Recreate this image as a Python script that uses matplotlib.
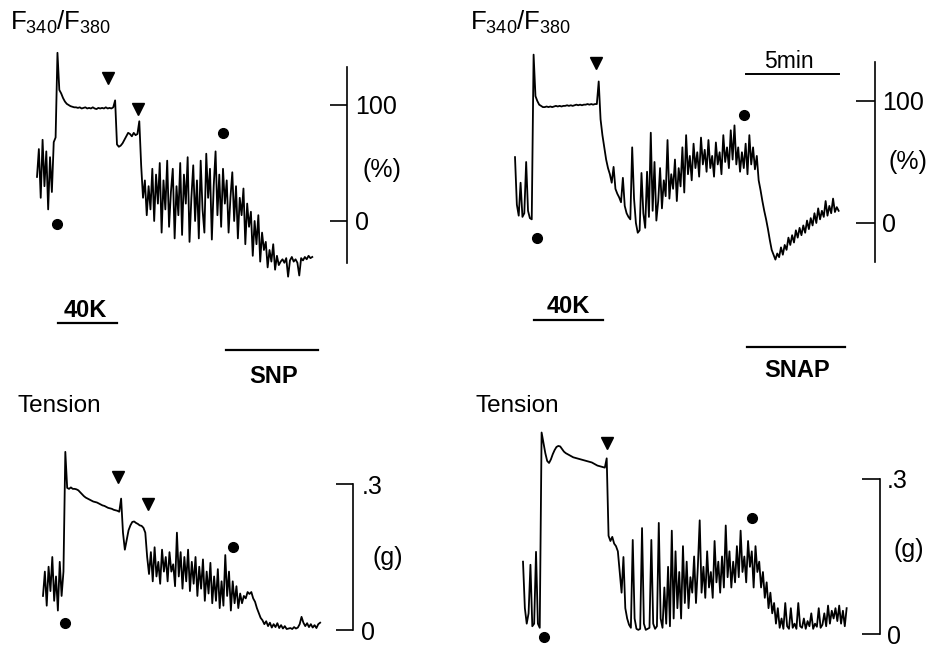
import numpy as np
import matplotlib
matplotlib.use("Agg")
import matplotlib.pyplot as plt
import matplotlib.transforms as mtransforms

plt.rcParams['font.family'] = ['Liberation Sans', 'DejaVu Sans']
plt.rcParams['mathtext.fontset'] = 'custom'
plt.rcParams['mathtext.rm'] = 'Liberation Sans'
plt.rcParams['mathtext.it'] = 'Liberation Sans:italic'
plt.rcParams['mathtext.bf'] = 'Liberation Sans:bold'

# ---------------- data (time step 0.1 min per sample) ----------------
DT = 0.1  # min

# F340/F380 (%), SNP experiment
ratio_snp = [38, 62, 20, 70, 30, 60, 10, 55, 25, 68, 72,
             145,
             113, 110, 106, 103, 101, 100, 99, 98.5, 98,
             98, 97.5, 98, 97, 97.5, 98, 97, 97.5, 97, 98, 97, 96.5, 97.5, 97, 97.5, 97, 98, 97, 97.5, 97, 98,
             104,
             66, 64, 65, 67, 70, 73, 76, 75, 73, 76, 74, 75,
             86, 48,
             20, 35, 5, 30, 10, 45, 0, 40, 15, 50,
             -10, 35, 10, 52, -5, 25, 45, -15, 30, 5, 50,
             -12, 40, 15, 55, -18, 20, 48, 0, 35, -15, 52,
             10, -10, 58, 20, 45, -16, 30, 60, 5, 40,
             -5, 45, 15, 35, -10, 20, 42, 0,
             30, -15, 20, 5, 28, -20, 15, -5,
             8, -30, 0, -20, 5, -35, -10, -25,
             -18, -40, -25, -35, -20, -42, -30, -38,
             -35, -33, -36, -32, -48, -34, -31, -35, -33, -36, -47, -32, -34, -31, -33, -30, -32, -31]

# F340/F380 (%), SNAP experiment
ratio_snap = [54, 15, 6, 33, 5, 8, 50, 10, 4, 3,
              138,
              104, 100, 97, 96, 95,
              95, 95.5, 95, 95.5, 95, 95.5, 96, 95.5, 96, 95.5, 96, 96, 96.5, 96, 96.5,
              96, 96.5, 97, 96.5, 97, 96.5, 97, 97, 97.5, 97, 97.5, 97, 97.5, 97.5,
              116,
              85, 72, 62, 52, 45, 40, 33,
              46, 28, 24, 21, 17, 37, 14,
              8, 5, 3, 62, 20, 0, -8,
              -6, 41, 8, -4, 42, 5, 74,
              10, 50, 2, 18, 45, 12, 35,
              22, 68, 20, 40, 28, 52, 18,
              45, 30, 62, 25, 72, 40, 55,
              35, 65, 45, 58, 38, 70, 48,
              60, 42, 68, 45, 55, 38, 66,
              48, 58, 40, 72, 50, 62, 45,
              76, 52, 80, 48, 62, 42, 58,
              45, 65, 40, 72, 48, 62, 44,
              55, 35, 27, 18, 10, 3, -5,
              -14, -22, -26, -30, -25, -28, -20,
              -26, -18, -22, -12, -18, -10, -16,
              -6, -12, -4, -10, -2, -8, 2,
              -5, 4, -2, 8, 0, 12, 3,
              10, 5, 18, 6, 14, 8, 20,
              9, 13, 10]

# Tension (g), SNP experiment
tension_snp = [0.07, 0.12, 0.05, 0.13, 0.08, 0.15, 0.06, 0.11, 0.04, 0.14, 0.07, 0.12,
               0.366,
               0.292, 0.29, 0.293, 0.29, 0.29, 0.289, 0.287, 0.283, 0.279, 0.275, 0.272, 0.27,
               0.268, 0.266, 0.264, 0.263, 0.262, 0.26, 0.258, 0.256, 0.255, 0.253, 0.251, 0.25,
               0.249, 0.247, 0.246, 0.245, 0.243,
               0.27, 0.2, 0.165, 0.185, 0.205, 0.215, 0.222, 0.223, 0.22, 0.218, 0.215, 0.214,
               0.21, 0.2, 0.15, 0.115,
               0.16, 0.1, 0.17, 0.11, 0.14, 0.095, 0.165, 0.12, 0.15, 0.1, 0.16, 0.12, 0.135, 0.09,
               0.2, 0.11, 0.16, 0.085, 0.15, 0.1, 0.165, 0.08, 0.14, 0.095, 0.15, 0.07, 0.13, 0.085,
               0.145, 0.06, 0.12, 0.075, 0.138, 0.055, 0.11, 0.06, 0.125, 0.045, 0.1, 0.05, 0.154,
               0.07, 0.12, 0.04, 0.1, 0.055, 0.09, 0.045, 0.075, 0.055, 0.07, 0.065, 0.078, 0.074,
               0.078, 0.065, 0.058, 0.045, 0.035, 0.025, 0.02, 0.012, 0.018, 0.008, 0.015, 0.005,
               0.012, 0.006, 0.014, 0.004, 0.01, 0.003, 0.008, 0.002, 0.003, 0.004, 0.002, 0.006,
               0.003, 0.005, 0.012, 0.027, 0.015, 0.008, 0.014, 0.006, 0.012, 0.005, 0.01, 0.004,
               0.012, 0.015]

# Tension (g), SNAP experiment
tension_snap = [0.14, 0.05, 0.02, 0.04, 0.134, 0.015, 0.02, 0.159, 0.02, 0.012,
                0.39,
                0.37, 0.35, 0.335, 0.331, 0.338, 0.348, 0.356, 0.362, 0.364, 0.363, 0.358, 0.353,
                0.35, 0.348, 0.346, 0.344, 0.342, 0.341, 0.34, 0.339, 0.338, 0.337, 0.336, 0.335,
                0.334, 0.333, 0.332, 0.33, 0.328, 0.326, 0.325, 0.324, 0.323, 0.322,
                0.34,
                0.19, 0.18, 0.188, 0.175, 0.17, 0.16, 0.12, 0.08, 0.149, 0.05, 0.03, 0.018, 0.012,
                0.182, 0.03, 0.01, 0.008, 0.01, 0.205, 0.02, 0.008, 0.01, 0.012, 0.182, 0.02, 0.01,
                0.015, 0.215, 0.03, 0.012, 0.09, 0.02, 0.13, 0.015, 0.2, 0.03, 0.16, 0.05, 0.12,
                0.03, 0.17, 0.06, 0.14, 0.05, 0.11, 0.08, 0.15, 0.06, 0.13, 0.22, 0.08, 0.13, 0.07,
                0.16, 0.09, 0.12, 0.07, 0.18, 0.1, 0.14, 0.08, 0.15, 0.09, 0.21, 0.11, 0.16, 0.09,
                0.14, 0.1, 0.17, 0.11, 0.2, 0.12, 0.15, 0.1, 0.18, 0.13, 0.16, 0.09, 0.17, 0.12,
                0.14, 0.09, 0.12, 0.07, 0.1, 0.05, 0.08, 0.04, 0.06, 0.02, 0.05, 0.012, 0.03, 0.01,
                0.06, 0.015, 0.01, 0.05, 0.012, 0.02, 0.01, 0.06, 0.015, 0.012, 0.03, 0.01, 0.025,
                0.015, 0.04, 0.01, 0.02, 0.014, 0.05, 0.012, 0.018, 0.04, 0.015, 0.055, 0.02, 0.045,
                0.03, 0.05, 0.025, 0.055, 0.02, 0.045, 0.015, 0.05]

# event markers (time in min, level)
tri_snp_t, tri_snp_r = [3.82, 5.43], [123, 96.6]
dot_snp_t, dot_snp_r = [1.08, 10.0], [-2.6, 75.9]
tri_snap_t, tri_snap_r = [4.35], [131]
dot_snap_t, dot_snap_r = [1.18, 12.31], [-12.3, 88.5]
tri_snpT_t, tri_snpT_g = [4.03, 5.65], [0.314, 0.259]
dot_snpT_t, dot_snpT_g = [1.18, 10.2], [0.0144, 0.171]
tri_snapT_t, tri_snapT_g = [4.52], [0.37]
dot_snapT_t, dot_snapT_g = [1.13, 12.31], [-0.006, 0.2245]

# drug application periods (min)
k40_snp = (1.13, 4.3)
snp_period = (10.16, 15.1)
k40_snap = (1.02, 4.73)
snap_period = (12.47, 17.74)
scale_5min = (12.42, 17.42)

# ---------------- layout ----------------
W, H = 930, 648
PPM = 18.6  # pixels per minute
fig = plt.figure(figsize=(W / 100, H / 100), dpi=100)


def make_panel(box, x0_px, y_ref_px, px_per_unit):
    l, r, t, b = box
    ax = fig.add_axes([l / W, 1 - b / H, (r - l) / W, (b - t) / H])
    ax.set_xlim((l - x0_px) / PPM, (r - x0_px) / PPM)
    ax.set_ylim(-(b - y_ref_px) / px_per_unit, (y_ref_px - t) / px_per_unit)
    for s in ['left', 'top', 'bottom']:
        ax.spines[s].set_visible(False)
    ax.set_xticks([])
    ax.patch.set_alpha(0)
    return ax


def scale_axis(ax, xpos, lo, hi, ticks, labels, length, pad):
    sp = ax.spines['right']
    sp.set_position(('data', xpos))
    sp.set_bounds(lo, hi)
    sp.set_linewidth(1.2)
    ax.yaxis.set_ticks_position('right')
    ax.set_yticks(ticks)
    ax.set_yticklabels(labels)
    ax.tick_params(axis='y', direction='in', length=length, width=1.2, pad=pad,
                   labelsize=18)


def ftext(x, y, s, **kw):
    fig.text(x / W, 1 - y / H, s, **kw)


def hbar(ax, t0, t1, ypx, lw=1.6):
    tr = mtransforms.blended_transform_factory(ax.transData, fig.transFigure)
    ax.plot([t0, t1], [1 - ypx / H] * 2, color='black', lw=lw, transform=tr, clip_on=False)


LW = 1.3
tri_kw = dict(marker='v', color='black', ms=8, ls='none', clip_on=False)
dot_kw = dict(marker='o', color='black', ms=7, ls='none', clip_on=False)

# top-left: ratio, SNP
ax1 = make_panel((20, 440, 40, 290), 37, 221, 1.16)
t1 = np.arange(len(ratio_snp)) * DT
ax1.plot(t1, ratio_snp, color='black', lw=LW)
ax1.plot(tri_snp_t, tri_snp_r, **tri_kw)
ax1.plot(dot_snp_t, dot_snp_r, **dot_kw)
scale_axis(ax1, (347 - 37) / PPM, -36, 133, [0, 100], ['0', '100'], 12, 6)
hbar(ax1, *k40_snp, 323)
hbar(ax1, *snp_period, 350)

# top-right: ratio, SNAP
ax2 = make_panel((480, 930, 40, 290), 515, 223, 1.22)
t2 = np.arange(len(ratio_snap)) * DT
ax2.plot(t2, ratio_snap, color='black', lw=LW)
ax2.plot(tri_snap_t, tri_snap_r, **tri_kw)
ax2.plot(dot_snap_t, dot_snap_r, **dot_kw)
scale_axis(ax2, (875 - 515) / PPM, -32, 132, [0, 100], ['0', '100'], 14, 5)
hbar(ax2, *k40_snap, 320)
hbar(ax2, *snap_period, 347)
hbar(ax2, *scale_5min, 74, lw=1.4)

# bottom-left: tension, SNP
ax3 = make_panel((20, 440, 430, 648), 43, 630, 146 / 0.3)
t3 = np.arange(len(tension_snp)) * DT
ax3.plot(t3, tension_snp, color='black', lw=LW)
ax3.plot(tri_snpT_t, tri_snpT_g, **tri_kw)
ax3.plot(dot_snpT_t, dot_snpT_g, **dot_kw)
scale_axis(ax3, (353 - 43) / PPM, 0, 0.3, [0, 0.3], ['0', '.3'], 12, 6)

# bottom-right: tension, SNAP
ax4 = make_panel((480, 930, 420, 648), 523, 634, 155 / 0.3)
t4 = np.arange(len(tension_snap)) * DT
ax4.plot(t4, tension_snap, color='black', lw=LW)
ax4.plot(tri_snapT_t, tri_snapT_g, **tri_kw)
ax4.plot(dot_snapT_t, dot_snapT_g, **dot_kw)
scale_axis(ax4, (880 - 523) / PPM, 0, 0.3, [0, 0.3], ['0', '.3'], 13, 5)

# ---------------- labels ----------------
flabel = r'F$_{340}$/F$_{380}$'
ftext(10, 30, flabel, fontsize=18.5, ha='left', va='baseline')
ftext(470, 30, flabel, fontsize=18.5, ha='left', va='baseline')
ftext(362, 170, '(%)', fontsize=18, ha='left', va='center')
ftext(888, 162, '(%)', fontsize=18, ha='left', va='center')
ftext(372, 558, '(g)', fontsize=18, ha='left', va='center')
ftext(893, 550, '(g)', fontsize=18, ha='left', va='center')
ftext(85, 317, '40K', fontsize=17, fontweight='bold', ha='center', va='baseline')
ftext(568, 313, '40K', fontsize=17, fontweight='bold', ha='center', va='baseline')
ftext(274, 383, 'SNP', fontsize=17, fontweight='bold', ha='center', va='baseline')
ftext(797, 377, 'SNAP', fontsize=17, fontweight='bold', ha='center', va='baseline')
ftext(789, 68, '5min', fontsize=16.5, ha='center', va='baseline')
ftext(17, 412, 'Tension', fontsize=17.5, ha='left', va='baseline')
ftext(475, 412, 'Tension', fontsize=17.5, ha='left', va='baseline')

fig.savefig('out.png', dpi=100)
